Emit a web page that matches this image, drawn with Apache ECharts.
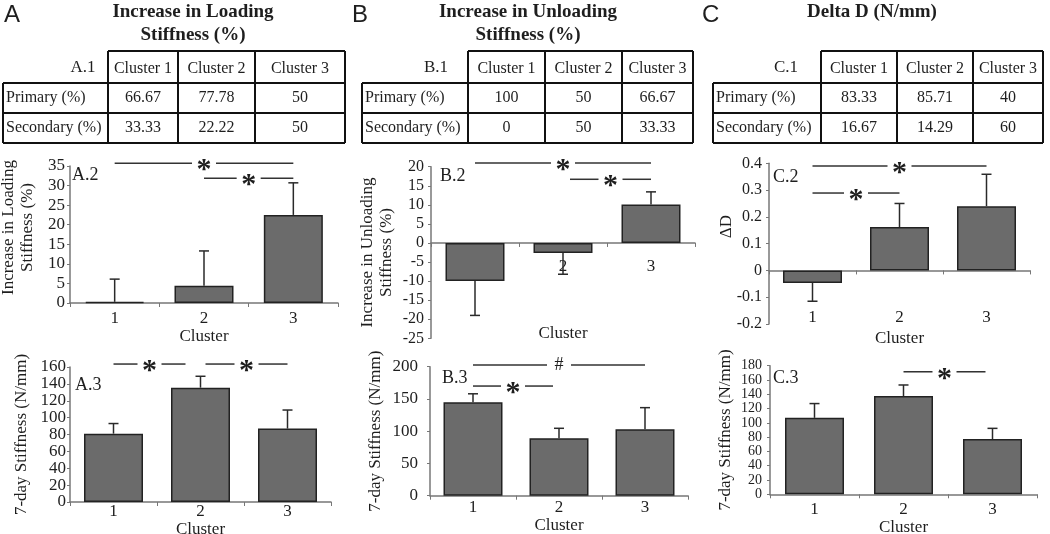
<!DOCTYPE html>
<html><head><meta charset="utf-8">
<script src="https://cdn.jsdelivr.net/npm/echarts@6/dist/echarts.min.js"></script>
<style>html,body{margin:0;padding:0;background:#fff}#c{width:1050px;height:534px}</style>
</head><body><div id="c"></div>
<script>
// ---------------- DATA ----------------
const clusters = ['1', '2', '3'];
const tableHeaders = ['Cluster 1', 'Cluster 2', 'Cluster 3'];
const tableRowLabels = ['Primary (%)', 'Secondary (%)'];
const primaryA = ['66.67', '77.78', '50'];
const secondaryA = ['33.33', '22.22', '50'];
const primaryB = ['100', '50', '66.67'];
const secondaryB = ['0', '50', '33.33'];
const primaryC = ['83.33', '85.71', '40'];
const secondaryC = ['16.67', '14.29', '60'];

const loadingIncrease = [0.3, 4.4, 22.5];
const loadingIncreaseSD = [5.8, 8.9, 8.2];
const stiffnessA = [81, 135.5, 87];
const stiffnessASD = [12, 13.5, 22];
const unloadingIncrease = [-10, -2.6, 10.1];
const unloadingIncreaseSD = [9, 5.6, 3.3];
const stiffnessB = [145, 89, 103];
const stiffnessBSD = [13, 15.5, 33.5];
const deltaD = [-0.047, 0.162, 0.24];
const deltaDSD = [0.068, 0.088, 0.119];
const stiffnessC = [107, 137.6, 77.4];
const stiffnessCSD = [20, 15.4, 14.9];

// y-axis ranges [min, max, interval]
const rangeA2 = [0, 35, 5];
const rangeA3 = [0, 160, 20];
const rangeB2 = [-25, 20, 5];
const rangeB3 = [0, 200, 50];
const rangeC2 = [-0.2, 0.4, 0.1];
const rangeC3 = [0, 180, 20];

// significance comparisons: [fromClusterIndex, toClusterIndex, y value, mark]
const sigA2 = [[0, 2, 35.7, '*'], [1, 2, 31.9, '*']];
const sigA3 = [[0, 1, 163.5, '*'], [1, 2, 163.5, '*']];
const sigB2 = [[0, 2, 21, '*'], [1, 2, 16.7, '*']];
const sigB3 = [[0, 2, 202.6, '#'], [0, 1, 170, '*']];
const sigC2 = [[0, 2, 0.39, '*'], [0, 1, 0.289, '*']];
const sigC3 = [[1, 2, 171.5, '*']];

// ---------------- LAYOUT / STYLE ----------------
const SERIF = 'Liberation Serif';
const INK = '#1e1e1e';
const BAR = '#6b6b6b';

const panels = [
  {tag: 'A.2', vals: loadingIncrease, sd: loadingIncreaseSD, range: rangeA2, sig: sigA2, trims: null,
   grid: {left: 70, top: 166, width: 268, height: 137}, yName: 'Increase in Loading\nStiffness (%)', yGap: 33, yPad: 14,
   yFont: 17, yMargin: 5, xMargin: 7, xGap: 12, tagPos: [72, 175]},
  {tag: 'A.3', vals: stiffnessA, sd: stiffnessASD, range: rangeA3, sig: sigA3, trims: [[0, -15], [5, 0]],
   grid: {left: 70, top: 367, width: 261, height: 135}, yName: '7-day Stiffness (N/mm)', yGap: 39, yPad: 0,
   yFont: 17, yMargin: 4, xMargin: 1, xGap: 18, tagPos: [75, 385]},
  {tag: 'B.2', vals: unloadingIncrease, sd: unloadingIncreaseSD, range: rangeB2, sig: sigB2, trims: [[0, 0], [7, 0]],
   grid: {left: 431, top: 166.7, width: 264, height: 171.6}, yName: 'Increase in Unloading\nStiffness (%)', yGap: 35, yPad: 0,
   yFont: 16, yMargin: 7, xMargin: -80, xGap: -13, tagPos: [440, 176]},
  {tag: 'B.3', vals: stiffnessB, sd: stiffnessBSD, range: rangeB3, sig: sigB3, trims: [[0, 0], [0, -6]],
   grid: {left: 430, top: 366.7, width: 258, height: 129}, yName: '7-day Stiffness (N/mm)', yGap: 45, yPad: 0,
   yFont: 17, yMargin: 12, xMargin: 3, xGap: 21, tagPos: [442, 378]},
  {tag: 'C.2', vals: deltaD, sd: deltaDSD, range: rangeC2, sig: sigC2, trims: null,
   grid: {left: 769, top: 163.3, width: 261, height: 160.7}, yName: 'ΔD', yGap: 33, yPad: 34,
   yFont: 16, yMargin: 7, xMargin: -15, xGap: 6, tagPos: [773, 177]},
  {tag: 'C.3', vals: stiffnessC, sd: stiffnessCSD, range: rangeC3, sig: sigC3, trims: [[0, -7]],
   grid: {left: 770, top: 365.7, width: 267, height: 128.6}, yName: '7-day Stiffness (N/mm)', yGap: 35, yPad: 0,
   yFont: 14, yMargin: 8, xMargin: 7, xGap: 25, tagPos: [773, 378]}
];

const tables = [
  {letter: 'A', letterX: 4, title: ['Increase in Loading', 'Stiffness (%)'], titleX: 193, tag: 'A.1', tagX: 83,
   x0: 3, cols: [108, 178, 255, 345], primary: primaryA, secondary: secondaryA},
  {letter: 'B', letterX: 352, title: ['Increase in Unloading', 'Stiffness (%)'], titleX: 528, tag: 'B.1', tagX: 436,
   x0: 362, cols: [468, 545, 622, 693], primary: primaryB, secondary: secondaryB},
  {letter: 'C', letterX: 702, title: ['Delta D (N/mm)'], titleX: 872, tag: 'C.1', tagX: 786,
   x0: 713, cols: [821, 897, 973, 1043], primary: primaryC, secondary: secondaryC}
];
const rowY = [51, 83, 113, 143];

function txt(x, y, text, font, align, valign, extra) {
  return Object.assign({type: 'text', x: x, y: y, silent: true,
    style: {text: text, font: font, fill: INK, align: align, verticalAlign: valign,
            textAlign: align, textVerticalAlign: valign}}, extra || {});
}
function ln(x1, y1, x2, y2, w) {
  return {type: 'line', silent: true, shape: {x1: x1, y1: y1, x2: x2, y2: y2}, style: {stroke: '#111', lineWidth: w || 2}};
}

const graphics = [];
tables.forEach(t => {
  graphics.push(txt(t.letterX, 3, t.letter, '24px Liberation Sans', 'left', 'top'));
  t.title.forEach((s, i) => graphics.push(txt(t.titleX, 12 + i * 23, s, 'bold 19px ' + SERIF, 'center', 'middle')));
  const c = t.cols, x0 = t.x0;
  graphics.push(ln(c[0], rowY[0], c[3], rowY[0]));
  for (let r = 1; r < 4; r++) graphics.push(ln(x0, rowY[r], c[3], rowY[r]));
  graphics.push(ln(x0, rowY[1], x0, rowY[3]));
  c.forEach(x => graphics.push(ln(x, rowY[0], x, rowY[3])));
  graphics.push(txt(t.tagX, 68, t.tag, '17px ' + SERIF, 'center', 'middle'));
  tableHeaders.forEach((h, i) => graphics.push(txt((c[i] + c[i + 1]) / 2, 69, h, '16px ' + SERIF, 'center', 'middle')));
  [t.primary, t.secondary].forEach((row, r) => {
    const yc = (rowY[r + 1] + rowY[r + 2]) / 2;
    graphics.push(txt(x0 + 3, yc, tableRowLabels[r], '16px ' + SERIF, 'left', 'middle'));
    row.forEach((v, i) => graphics.push(txt((c[i] + c[i + 1]) / 2, yc, v, '16px ' + SERIF, 'center', 'middle')));
  });
});
panels.forEach(p => graphics.push(txt(p.tagPos[0], p.tagPos[1], p.tag, '18px ' + SERIF, 'left', 'middle')));

const grids = [], xAxes = [], yAxes = [], series = [];
panels.forEach((p, i) => {
  grids.push(Object.assign({containLabel: false, outerBoundsMode: 'none'}, p.grid));
  xAxes.push({
    type: 'category', gridIndex: i, data: clusters, boundaryGap: true,
    name: 'Cluster', nameLocation: 'middle', nameGap: p.xGap,
    nameTextStyle: {fontFamily: SERIF, fontSize: 17, color: INK},
    axisLine: {onZero: true, lineStyle: {color: '#777', width: 1.5}},
    axisTick: {show: true, length: 4, lineStyle: {color: '#777'}},
    axisLabel: {fontFamily: SERIF, fontSize: 17, color: INK, margin: p.xMargin},
    splitLine: {show: false}
  });
  yAxes.push({
    type: 'value', gridIndex: i, min: p.range[0], max: p.range[1], interval: p.range[2],
    name: p.yName, nameLocation: 'middle', nameGap: p.yGap, nameRotate: 90,
    nameTextStyle: {fontFamily: SERIF, fontSize: 17, color: INK, lineHeight: 19, padding: [0, 0, 0, p.yPad]},
    axisLine: {show: true, lineStyle: {color: '#777', width: 1.5}},
    axisTick: {show: true, length: 3, lineStyle: {color: '#777'}},
    axisLabel: {fontFamily: SERIF, fontSize: p.yFont, lineHeight: 10, color: INK, margin: p.yMargin,
                showMinLabel: true, showMaxLabel: true, hideOverlap: false, minMargin: 0,
                formatter: v => String(Math.round(v * 1000) / 1000)},
    splitLine: {show: false}
  });
  series.push({
    type: 'bar', xAxisIndex: i, yAxisIndex: i, data: p.vals, barWidth: 59, silent: true,
    itemStyle: {color: BAR, borderColor: '#222', borderWidth: 1.5}
  });
  series.push({
    type: 'custom', xAxisIndex: i, yAxisIndex: i, silent: true, z: 4, clip: false,
    encode: {x: 0, y: 1},
    data: p.vals.map((v, k) => [k, v, v + (v < 0 ? -1 : 1) * p.sd[k]]),
    renderItem: function (params, api) {
      const a = api.coord([api.value(0), api.value(1)]);
      const b = api.coord([api.value(0), api.value(2)]);
      const st = {stroke: '#2a2a2a', lineWidth: 1.5};
      return {type: 'group', children: [
        {type: 'line', shape: {x1: a[0], y1: a[1], x2: b[0], y2: b[1]}, style: st},
        {type: 'line', shape: {x1: b[0] - 5, y1: b[1], x2: b[0] + 5, y2: b[1]}, style: st}
      ]};
    }
  });
  series.push({
    type: 'custom', xAxisIndex: i, yAxisIndex: i, silent: true, z: 5, clip: false,
    encode: {x: 0, y: 2},
    data: p.sig.map(s => [s[0], s[1], s[2]]),
    renderItem: function (params, api) {
      const k = params.dataIndex;
      const a = api.coord([api.value(0), api.value(2)]);
      const b = api.coord([api.value(1), api.value(2)]);
      const t = (p.trims && p.trims[k]) || [0, 0];
      const x1 = a[0] + t[0], x2 = b[0] + t[1], y = a[1];
      const mid = (x1 + x2) / 2, g = 12;
      const mark = p.sig[k][3];
      const st = {stroke: '#333', lineWidth: 1.5};
      const isStar = mark === '*';
      return {type: 'group', children: [
        {type: 'line', shape: {x1: x1, y1: y, x2: mid - g, y2: y}, style: st},
        {type: 'line', shape: {x1: mid + g, y1: y, x2: x2, y2: y}, style: st},
        {type: 'text', x: mid, y: isStar ? y + 7 : y,
         style: {text: mark, font: (isStar ? 'bold 30px ' : '18px ') + SERIF, fill: INK,
                 align: 'center', verticalAlign: 'middle', textAlign: 'center', textVerticalAlign: 'middle'}}
      ]};
    }
  });
});

const chart = echarts.init(document.getElementById('c'), null, {renderer: 'canvas'});
chart.setOption({
  animation: false,
  backgroundColor: '#ffffff',
  grid: grids, xAxis: xAxes, yAxis: yAxes, series: series,
  graphic: {elements: graphics}
});
</script>
</body></html>
